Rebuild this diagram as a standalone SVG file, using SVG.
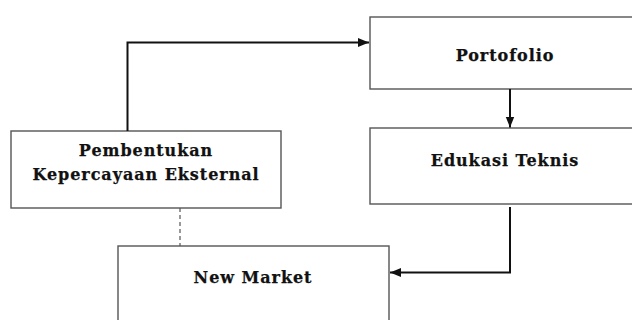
<svg xmlns="http://www.w3.org/2000/svg" width="632" height="320" viewBox="0 0 632 320">
<style>
.box{fill:#fff;stroke:#555;stroke-width:1.4}
.lbl{font-family:"DejaVu Serif",serif;font-weight:bold;font-size:16px;letter-spacing:0.95px;fill:#111;stroke:#111;stroke-width:0.25;text-anchor:middle}
.con{fill:none;stroke:#111;stroke-width:2}
.dash{fill:none;stroke:#555;stroke-width:1.2;stroke-dasharray:4,3}
</style>
<defs>
<marker id="ah" viewBox="0 0 10 10" refX="10" refY="5" markerWidth="11" markerHeight="11" orient="auto" markerUnits="userSpaceOnUse">
<path d="M0,1 L10,5 L0,9 z" fill="#111"/>
</marker>
</defs>
<g id="portofolio">
<rect class="box" x="370" y="17" width="270" height="72"/>
<text class="lbl" x="505" y="61">Portofolio</text>
</g>
<g id="edukasi">
<rect class="box" x="370" y="128" width="270" height="76"/>
<text class="lbl" x="505" y="166">Edukasi Teknis</text>
</g>
<g id="pembentukan">
<rect class="box" x="11" y="131" width="270" height="77"/>
<text class="lbl" x="146" y="156">Pembentukan</text>
<text class="lbl" x="146" y="180">Kepercayaan Eksternal</text>
</g>
<g id="newmarket">
<rect class="box" x="118" y="246" width="271" height="90"/>
<text class="lbl" x="253" y="283">New Market</text>
</g>
<g id="connectors">
<path class="con" d="M127.5,131 V42.5 H369" marker-end="url(#ah)"/>
<path class="con" d="M510,89 V127.5" marker-end="url(#ah)"/>
<path class="con" d="M510,207 V272.5 H390" marker-end="url(#ah)"/>
<path class="dash" d="M180,208 V246"/>
</g>
</svg>
